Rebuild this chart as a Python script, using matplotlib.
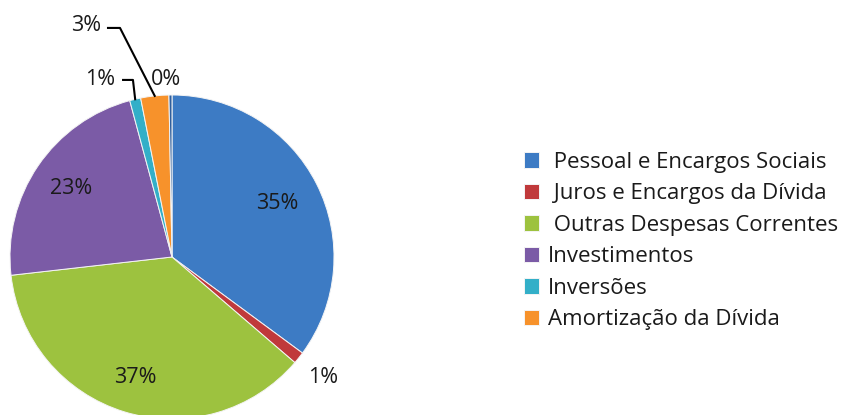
import matplotlib.pyplot as plt
import numpy as np

# Despesas por grupo (pie chart, Excel 2007 look)
categories = [' Pessoal e Encargos Sociais', ' Juros e Encargos da Dívida',
              ' Outras Despesas Correntes', 'Investimentos', 'Inversões',
              'Amortização da Dívida', 'Reserva']
values = [35.1, 1.2, 36.9, 22.6, 1.1, 2.8, 0.3]
pct_labels = ['35%', '1%', '37%', '23%', '1%', '3%', '0%']
n_legend = 6  # last slice has no legend entry in the original

colors = ['#3D7BC4', '#C0393B', '#9DC23F', '#7B5BA6', '#33AFC8', '#F7922B', '#2F5F9E']

plt.rcParams['font.family'] = ['Open Sans', 'DejaVu Sans']

fig = plt.figure(figsize=(8.5, 4.15), dpi=100)
ax = fig.add_axes([0, 0, 1, 1])

# pie centre at (172, 257) px, radius 162 px
R = 162.0
cx, cy = 172.0, 257.0
wedges, _ = ax.pie(values, colors=colors, startangle=90, counterclock=False,
                   radius=1, wedgeprops=dict(edgecolor='#f4f4f4', linewidth=0.7))
ax.set_xlim(-cx / R, (850 - cx) / R)
ax.set_ylim(-(415 - cy) / R, cy / R)
ax.set_aspect('auto')
ax.axis('off')

# label layout: radial distance for most, explicit spot + leader for the thin ones
radial = {0: 0.73, 1: 1.19, 2: 0.78, 3: 0.75}
placed = {4: (-0.444, 1.093), 5: (-0.531, 1.432), 6: (-0.04, 1.093)}
elbows = {4: [(-0.302, 1.093), (-0.241, 1.093)],
          5: [(-0.395, 1.414), (-0.321, 1.414)]}

for i, w in enumerate(wedges):
    mid = np.deg2rad((w.theta1 + w.theta2) / 2)
    if i in radial:
        d = radial[i]
        pos = (d * np.cos(mid), d * np.sin(mid))
    else:
        pos = placed[i]
    ax.text(pos[0], pos[1], pct_labels[i], ha='center', va='center',
            fontsize=15.5, color='#1a1a1a')
    if i in elbows:
        pts = elbows[i] + [(np.cos(mid), np.sin(mid))]
        xs, ys = zip(*pts)
        ax.plot(xs, ys, color='black', lw=1.5)

leg = ax.legend(wedges[:n_legend], categories[:n_legend], loc='upper left',
                bbox_to_anchor=(515 / 850, 1 - 143 / 415), frameon=False,
                fontsize=16, handlelength=0.68, handleheight=0.68,
                handletextpad=0.4, labelspacing=0.47, borderaxespad=0)
for t in leg.get_texts():
    t.set_color('#1a1a1a')

fig.savefig('out.png', dpi=100)
